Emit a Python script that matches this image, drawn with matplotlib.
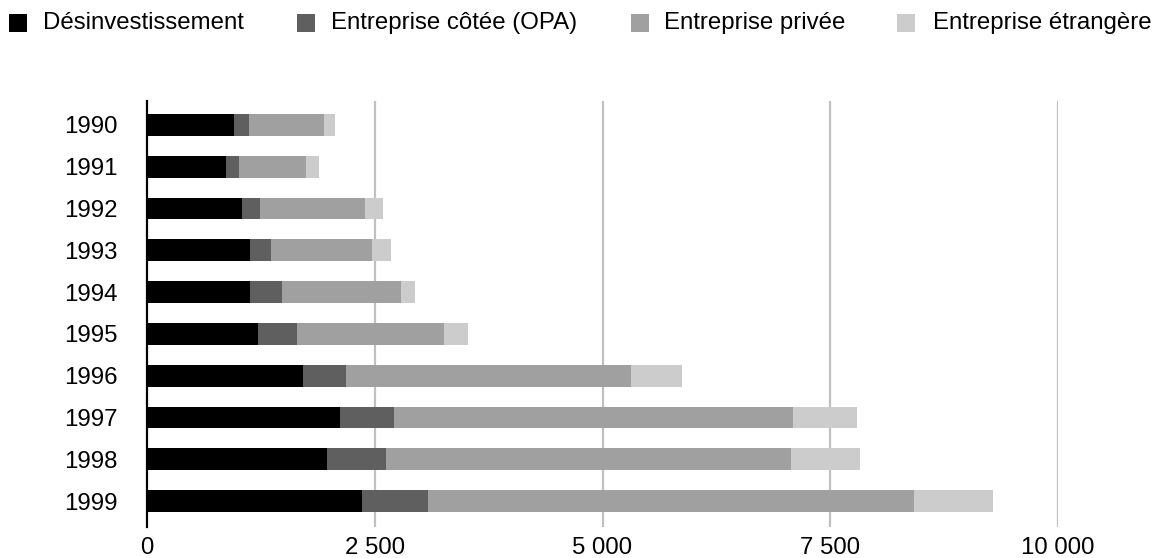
import numpy as np
import matplotlib
matplotlib.use('Agg')
import matplotlib.pyplot as plt
from matplotlib.patches import Rectangle
from matplotlib.ticker import FuncFormatter

plt.rcParams['font.family'] = ['Liberation Sans', 'DejaVu Sans']

# data
years = ['1990', '1991', '1992', '1993', '1994', '1995', '1996', '1997', '1998', '1999']
desinvest = [955, 867, 1043, 1131, 1131, 1218, 1712, 2119, 1976, 2360]
cotee = [165, 143, 197, 230, 351, 429, 472, 592, 647, 724]
privee = [823, 735, 1153, 1109, 1306, 1613, 3129, 4380, 4446, 5335]
etrangere = [121, 143, 198, 208, 154, 264, 560, 703, 758, 867]

labels = ['Désinvestissement', 'Entreprise côtée (OPA)', 'Entreprise privée', 'Entreprise étrangère']
colors = ['#000000', '#5f5f5f', '#a0a0a0', '#cccccc']
series = [desinvest, cotee, privee, etrangere]

FS = 17.3

fig = plt.figure(figsize=(11.56, 5.58), dpi=100)
ax = fig.add_axes([0.1272, 0.0556, 0.788, 0.7634])

y = np.arange(len(years))
left = np.zeros(len(years))
for vals, col, lab in zip(series, colors, labels):
    ax.barh(y, vals, left=left, height=0.52, color=col, label=lab, zorder=3)
    left += np.array(vals)

ax.set_xlim(0, 10000)
ax.set_ylim(9.62, -0.574)
ax.set_yticks(y)
ax.set_yticklabels(years)
ax.set_xticks([0, 2500, 5000, 7500, 10000])
ax.xaxis.set_major_formatter(FuncFormatter(lambda v, p: '{:,}'.format(int(v)).replace(',', ' ')))
ax.tick_params(axis='both', length=0, labelsize=FS)
ax.tick_params(axis='y', pad=21)
ax.tick_params(axis='x', pad=7)

for s in ['top', 'right', 'bottom']:
    ax.spines[s].set_visible(False)
ax.spines['left'].set_linewidth(1.6)
ax.spines['left'].set_zorder(4)

for xv in [2500, 5000, 7500, 10000]:
    ax.axvline(xv, color='#c0c0c0', lw=1.6, zorder=1)

# legend along the top
sq_x = [9, 297, 631, 897]
txt_x = [43, 331, 664, 933]
W, H = 1156.0, 558.0
for sx, tx, col, lab in zip(sq_x, txt_x, colors, labels):
    fig.add_artist(Rectangle((sx / W, 1 - 32 / H), 18 / W, 18 / H, transform=fig.transFigure,
                             color=col, lw=0))
    fig.text(tx / W, 1 - 23 / H, lab, fontsize=FS, va='center', ha='left')

fig.savefig('out.png', dpi=100)
